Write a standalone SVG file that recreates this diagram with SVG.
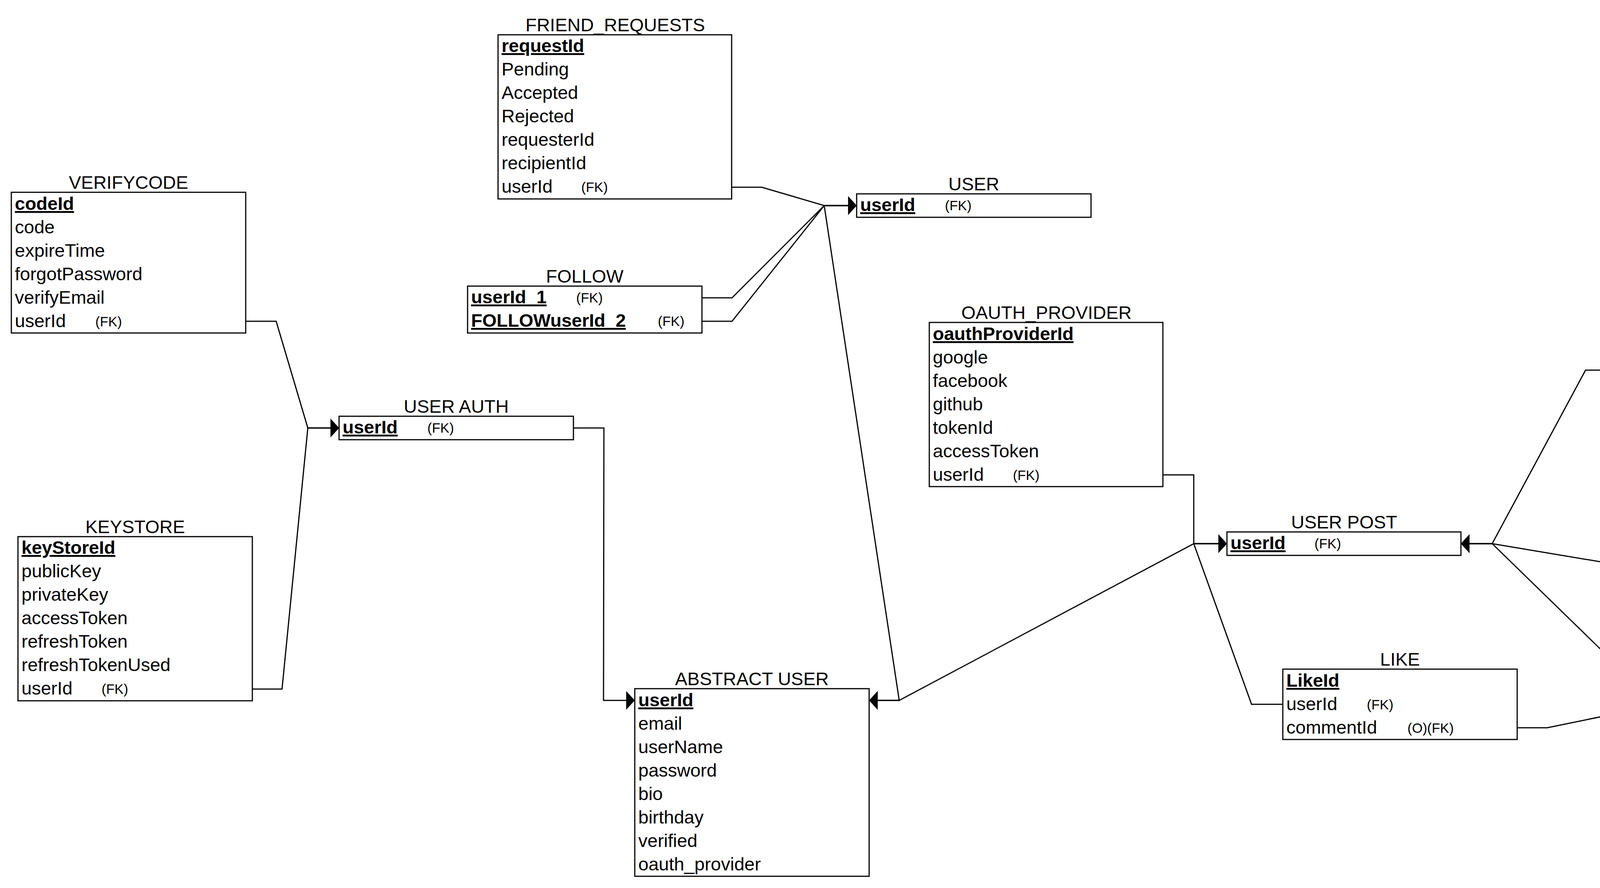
<svg xmlns="http://www.w3.org/2000/svg" width="7588" height="2272" viewBox="0 0 7588 2272">
<style>
.box{fill:#fff;stroke:#000;stroke-width:3}
text{font-family:"Liberation Sans",Arial,Helvetica,sans-serif;font-size:47px;fill:#000}
.ttl{text-anchor:middle}
.pk{font-weight:bold;text-decoration:underline}
.fk{font-size:35px}
.edge{fill:none;stroke:#000;stroke-width:3;marker-end:url(#arr)}
</style>
<defs>
<marker id="arr" markerUnits="userSpaceOnUse" viewBox="0 0 22 48" refX="22" refY="24" markerWidth="22" markerHeight="48" orient="auto">
<path d="M0,0 L22,24 L0,48 Z" fill="#000"/>
</marker>
</defs>
<rect x="0" y="0" width="7588" height="2272" fill="#fff"/>

<g id="connectors">
<path class="edge" d="M629,822 L707,822 L788,1095 L868,1095"/>
<path class="edge" d="M645,1763 L722,1763 L788,1095 L868,1095"/>
<path class="edge" d="M1469,1095 L1546,1095 L1545,1792 L1625,1792"/>
<path class="edge" d="M1873,479 L1950,479 L2110,526 L2193,526"/>
<path class="edge" d="M1797,762 L1874,762 L2110,526 L2193,526"/>
<path class="edge" d="M1797,822 L1874,822 L2110,526 L2193,526"/>
<path class="edge" d="M2193,526 L2110,526 L2302,1792 L2225,1792"/>
<path class="edge" d="M3141,1391 L3056,1391 L2302,1792 L2225,1792"/>
<path class="edge" d="M2977,1215 L3056,1215 L3056,1391 L3141,1391"/>
<path class="edge" d="M3284,1802 L3204,1802 L3056,1391 L3141,1391"/>
<path class="edge" d="M4141,947 L4059,947 L3820,1391 L3740,1391"/>
<path class="edge" d="M5096,1591 L5015,1591 L3820,1391 L3740,1391"/>
<path class="edge" d="M4429,1903 L4346,1903 L3820,1391 L3740,1391"/>
<path class="edge" d="M3884,1862 L3961,1862 L4346,1783 L4429,1783"/>
<path class="edge" d="M4429,1963 L4346,1963 L4346,1783 L4429,1783"/>
<path class="edge" d="M4740,1007 L4817,1007 L5014,991 L5096,991"/>
<path class="edge" d="M5185,238 L5103,238 L5016,991 L5096,991"/>
<path class="edge" d="M5785,298 L5863,298 L6119,202 L6200,202"/>
<path class="edge" d="M6205,747 L6121,747 L5775,991 L5697,991"/>
<path class="edge" d="M6804,807 L6882,807 L6880,542 L6961,542"/>
</g>

<g id="verifycode">
<text class="ttl" x="329" y="483">VERIFYCODE</text>
<rect class="box" x="29" y="492" width="600" height="360"/>
<text class="pk" x="38" y="537">codeId</text>
<text x="38" y="597">code</text>
<text x="38" y="657">expireTime</text>
<text x="38" y="717">forgotPassword</text>
<text x="38" y="777">verifyEmail</text>
<text x="38" y="837">userId</text>
<text class="fk" x="244" y="835">(FK)</text>
</g>

<g id="keystore">
<text class="ttl" x="346" y="1364">KEYSTORE</text>
<rect class="box" x="46" y="1373" width="600" height="420"/>
<text class="pk" x="55" y="1417">keyStoreId</text>
<text x="55" y="1477">publicKey</text>
<text x="55" y="1537">privateKey</text>
<text x="55" y="1597">accessToken</text>
<text x="55" y="1657">refreshToken</text>
<text x="55" y="1717">refreshTokenUsed</text>
<text x="55" y="1777">userId</text>
<text class="fk" x="260" y="1775">(FK)</text>
</g>

<g id="user-auth">
<text class="ttl" x="1168" y="1056">USER AUTH</text>
<rect class="box" x="868" y="1065" width="600" height="60"/>
<text class="pk" x="877" y="1109">userId</text>
<text class="fk" x="1094" y="1107">(FK)</text>
</g>

<g id="friend-requests">
<text class="ttl" x="1575" y="80">FRIEND_REQUESTS</text>
<rect class="box" x="1275" y="89" width="598" height="420"/>
<text class="pk" x="1284" y="133">requestId</text>
<text x="1284" y="193">Pending</text>
<text x="1284" y="253">Accepted</text>
<text x="1284" y="313">Rejected</text>
<text x="1284" y="373">requesterId</text>
<text x="1284" y="433">recipientId</text>
<text x="1284" y="493">userId</text>
<text class="fk" x="1488" y="491">(FK)</text>
</g>

<g id="follow">
<text class="ttl" x="1497" y="723">FOLLOW</text>
<rect class="box" x="1197" y="732" width="600" height="120"/>
<text class="pk" x="1206" y="776">userId_1</text>
<text class="fk" x="1475" y="774">(FK)</text>
<text class="pk" x="1206" y="836">FOLLOWuserId_2</text>
<text class="fk" x="1684" y="834">(FK)</text>
</g>

<g id="user">
<text class="ttl" x="2493" y="487">USER</text>
<rect class="box" x="2193" y="496" width="600" height="60"/>
<text class="pk" x="2202" y="540">userId</text>
<text class="fk" x="2419" y="538">(FK)</text>
</g>

<g id="abstract-user">
<text class="ttl" x="1925" y="1753">ABSTRACT USER</text>
<rect class="box" x="1625" y="1762" width="600" height="480"/>
<text class="pk" x="1634" y="1807">userId</text>
<text x="1634" y="1867">email</text>
<text x="1634" y="1927">userName</text>
<text x="1634" y="1987">password</text>
<text x="1634" y="2047">bio</text>
<text x="1634" y="2107">birthday</text>
<text x="1634" y="2167">verified</text>
<text x="1634" y="2227">oauth_provider</text>
</g>

<g id="oauth-provider">
<text class="ttl" x="2679" y="816">OAUTH_PROVIDER</text>
<rect class="box" x="2379" y="825" width="598" height="420"/>
<text class="pk" x="2388" y="870">oauthProviderId</text>
<text x="2388" y="930">google</text>
<text x="2388" y="990">facebook</text>
<text x="2388" y="1050">github</text>
<text x="2388" y="1110">tokenId</text>
<text x="2388" y="1170">accessToken</text>
<text x="2388" y="1230">userId</text>
<text class="fk" x="2593" y="1228">(FK)</text>
</g>

<g id="user-post">
<text class="ttl" x="3441" y="1352">USER POST</text>
<rect class="box" x="3141" y="1361" width="599" height="60"/>
<text class="pk" x="3150" y="1405">userId</text>
<text class="fk" x="3365" y="1403">(FK)</text>
</g>

<g id="like">
<text class="ttl" x="3584" y="1703">LIKE</text>
<rect class="box" x="3284" y="1712" width="600" height="180"/>
<text class="pk" x="3293" y="1757">LikeId</text>
<text x="3293" y="1817">userId</text>
<text class="fk" x="3499" y="1815">(FK)</text>
<text x="3293" y="1877">commentId</text>
<text class="fk" x="3603" y="1875">(O)(FK)</text>
</g>

<g id="comment">
<text class="ttl" x="4729" y="1744">COMMENT</text>
<rect class="box" x="4429" y="1753" width="599" height="240"/>
<text class="pk" x="4438" y="1798">commentId</text>
<text x="4438" y="1858">commentText</text>
<text x="4438" y="1918">userId</text>
<text class="fk" x="4644" y="1916">(FK)</text>
<text x="4438" y="1978">Contains_commentId</text>
<text class="fk" x="4965" y="1976">(O)(FK)</text>
</g>

<g id="image">
<text class="ttl" x="4441" y="608">IMAGE</text>
<rect class="box" x="4141" y="617" width="599" height="420"/>
<text class="pk" x="4150" y="661">imageId</text>
<text x="4150" y="721">imageUrl</text>
<text x="4150" y="781">avatar</text>
<text x="4150" y="841">thumnail</text>
<text x="4150" y="901">content</text>
<text x="4150" y="961">userId</text>
<text class="fk" x="4356" y="959">(FK)</text>
<text x="4150" y="1021">postId</text>
<text class="fk" x="4354" y="1019">(O)(FK)</text>
</g>

<g id="post">
<text class="ttl" x="5396" y="952">POST</text>
<rect class="box" x="5096" y="961" width="601" height="660"/>
<text class="pk" x="5105" y="1005">postId</text>
<text x="5105" y="1065">title</text>
<text x="5105" y="1125">draft</text>
<text x="5105" y="1185">publish</text>
<text x="5105" y="1245">unpublish</text>
<text x="5105" y="1305">private</text>
<text x="5105" y="1365">follower</text>
<text x="5105" y="1425">public</text>
<text x="5105" y="1485">summarize</text>
<text x="5105" y="1545">content</text>
<text x="5105" y="1605">userId</text>
<text class="fk" x="5311" y="1603">(FK)</text>
</g>

<g id="category-post">
<text class="ttl" x="5485" y="199">CATEGORY_POST</text>
<rect class="box" x="5185" y="208" width="600" height="120"/>
<text class="pk" x="5194" y="252">postId</text>
<text class="fk" x="5411" y="250">(FK)</text>
<text class="pk" x="5194" y="312">categoryId</text>
<text class="fk" x="5509" y="310">(FK)</text>
</g>

<g id="category">
<text class="ttl" x="6500" y="163">CATEGORY</text>
<rect class="box" x="6200" y="172" width="601" height="120"/>
<text class="pk" x="6209" y="217">categoryId</text>
<text x="6209" y="277">categoryName</text>
</g>

<g id="savelist-post">
<text class="ttl" x="6505" y="708">SAVELIST_POST</text>
<rect class="box" x="6205" y="717" width="599" height="120"/>
<text class="pk" x="6214" y="761">postId</text>
<text class="fk" x="6432" y="759">(FK)</text>
<text class="pk" x="6214" y="821">saveListId</text>
<text class="fk" x="6522" y="819">(FK)</text>
</g>

<g id="savelist">
<text class="ttl" x="7261" y="503">SAVELIST</text>
<rect class="box" x="6961" y="512" width="599" height="120"/>
<text class="pk" x="6970" y="557">saveListId</text>
<text x="6970" y="617">nameSaveList</text>
</g>
</svg>
